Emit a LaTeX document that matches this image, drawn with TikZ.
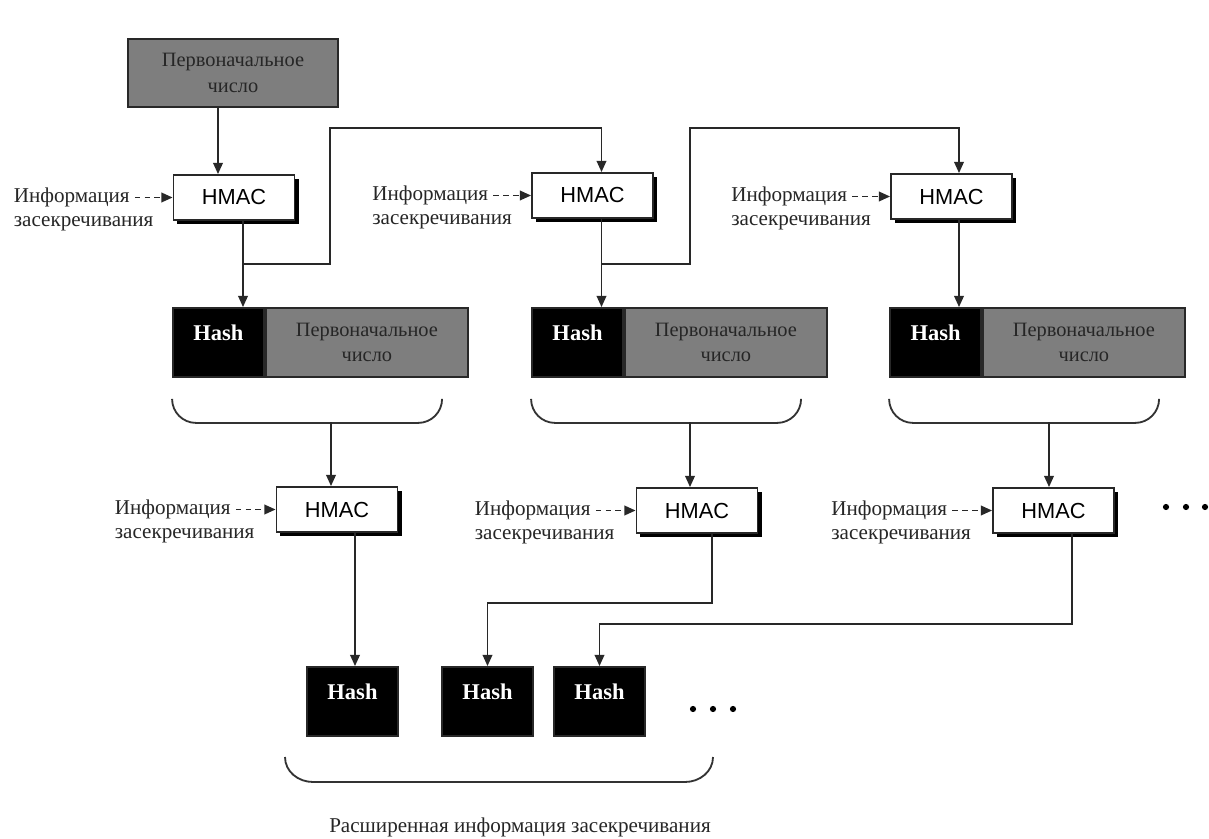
\documentclass[tikz,border=0pt]{standalone}
\usepackage{fontspec}
\setmainfont{Liberation Serif}
\newfontfamily\hmacfont{Liberation Sans}
\usetikzlibrary{arrows.meta, positioning, shadows}
\definecolor{seedGray}{RGB}{126,126,126}
\definecolor{lineGray}{RGB}{40,40,40}
\def\u{0.025cm}

\begin{document}
\begin{tikzpicture}[x=0.025cm, y=-0.025cm, >={Triangle[length=0.28cm, width=0.24cm]},
  line width=1.3pt, draw=lineGray,
  lbl/.style={font=\fontsize{15}{18}\selectfont, text=black!85, inner sep=0pt},
  seedbox/.style={draw=lineGray, fill=seedGray, text=black!85, align=center,
                  minimum width=5.25cm, minimum height=1.7cm, inner sep=0pt,
                  font=\fontsize{14.5}{18}\selectfont},
  seedpart/.style={seedbox, minimum width=5.05cm, minimum height=1.725cm},
  hmac/.style={draw=lineGray, fill=white, minimum width=3.025cm, minimum height=1.125cm,
               inner sep=0pt, font=\hmacfont\fontsize{15.5}{18}\selectfont,
               drop shadow={shadow xshift=0.1cm, shadow yshift=-0.1cm, fill=black, opacity=1}},
  hashbox/.style={draw=lineGray, fill=black, text=white, inner sep=0pt,
                  minimum width=2.275cm, minimum height=1.725cm,
                  text height=10pt, text depth=13.4pt, font=\bfseries\fontsize{16}{18}\selectfont},
  brace/.style={draw=black!80, line width=1.3pt},
  info/.style={->, dashed, dash pattern=on 4pt off 3pt}]

  \useasboundingbox (0,0) rectangle (1209,839);

  % first round
  \node[seedbox] (seed) at (233,73) {Первоначальное\\число};
  \node[hmac] (h1) at (234,197.5) {HMAC};
  \node[hmac] (h2) at (592.5,195.5) {HMAC};
  \node[hmac] (h3) at (951.5,196.5) {HMAC};

  \node[hashbox] (hA) at (218.5,342.5) {Hash};
  \node[seedpart, right=0pt of hA] (sA) {Первоначальное\\число};
  \node[hashbox] (hB) at (577.5,342.5) {Hash};
  \node[seedpart, right=0pt of hB] (sB) {Первоначальное\\число};
  \node[hashbox] (hC) at (935.5,342.5) {Hash};
  \node[seedpart, right=0pt of hC] (sC) {Первоначальное\\число};

  % second round
  \node[hmac] (g1) at (337,509.5) {HMAC};
  \node[hmac] (g2) at (697,510.5) {HMAC};
  \node[hmac] (g3) at (1053.5,510.5) {HMAC};

  \node[hashbox] (k1) at (352.5,701.5) {Hash};
  \node[hashbox] (k2) at (487.5,701.5) {Hash};
  \node[hashbox] (k3) at (599.5,701.5) {Hash};

  \node[lbl] (out) at (520,827) {Расширенная информация засекречивания};

  % secret info inputs
  \foreach \n in {1,2,3} {
    \node[lbl, left=1.05cm of h\n] (i\n) {Информация};
    \node[lbl, anchor=base west] (z\n) at ([yshift=-17pt]i\n.base west) {засекречивания};
    \draw[info] ([xshift=3pt]i\n.east) -- (h\n);
    \node[lbl, left=1.1cm of g\n] (e\n) {Информация};
    \node[lbl, anchor=base west] (f\n) at ([yshift=-17pt]e\n.base west) {засекречивания};
    \draw[info] ([xshift=3pt]e\n.east) -- (g\n);
  }

  % chaining
  \coordinate (j1) at (243,264);
  \coordinate (j2) at (602,264);
  \draw[->] ([xshift=-15*\u]seed.south) -- ([xshift=-15*\u]seed.south |- h1.north);
  \draw[->] ([xshift=9*\u]h1.south) -- ([xshift=9*\u]h1.south |- hA.north);
  \draw[->] (j1) -- ++(87,0) -- ++(0,-136) -| ([xshift=9*\u]h2.north);
  \draw[->] ([xshift=9*\u]h2.south) -- ([xshift=9*\u]h2.south |- hB.north);
  \draw[->] (j2) -- ++(88,0) -- ++(0,-136) -| ([xshift=7.5*\u]h3.north);
  \draw[->] ([xshift=7.5*\u]h3.south) -- ([xshift=7.5*\u]h3.south |- hC.north);

  % braces
  \foreach \b in {A,B,C}
    \draw[brace] ([yshift=-0.525cm]h\b.south west) to[out=-90,in=180] ++(24,24)
      -- ++(222,0) to[out=0,in=-90] ++(24,-24);
  \draw[brace] (285,757) to[out=-90,in=180] ++(28,25) -- ++(372,0) to[out=0,in=-90] ++(28,-25);

  \coordinate (b1) at (331,422);
  \coordinate (b2) at (690,422);
  \coordinate (b3) at (1049,422);
  \draw[->] (b1) -- (b1 |- g1.north);
  \draw[->] (b2) -- (b2 |- g2.north);
  \draw[->] (b3) -- (b3 |- g3.north);

  \draw[->] ([xshift=18*\u]g1.south) -- ([xshift=18*\u]g1.south |- k1.north);
  \draw[->] ([xshift=15*\u]g2.south) -- ++(0,69) -| (k2.north);
  \draw[->] ([xshift=18.5*\u]g3.south) -- ++(0,90) -| (k3.north);

  % continuation dots
  \foreach \x in {693,713,733} \fill[black] (\x,709) circle (2.2pt);
  \foreach \x in {1166,1186,1205} \fill[black] (\x,507) circle (2.2pt);

\end{tikzpicture}
\end{document}
